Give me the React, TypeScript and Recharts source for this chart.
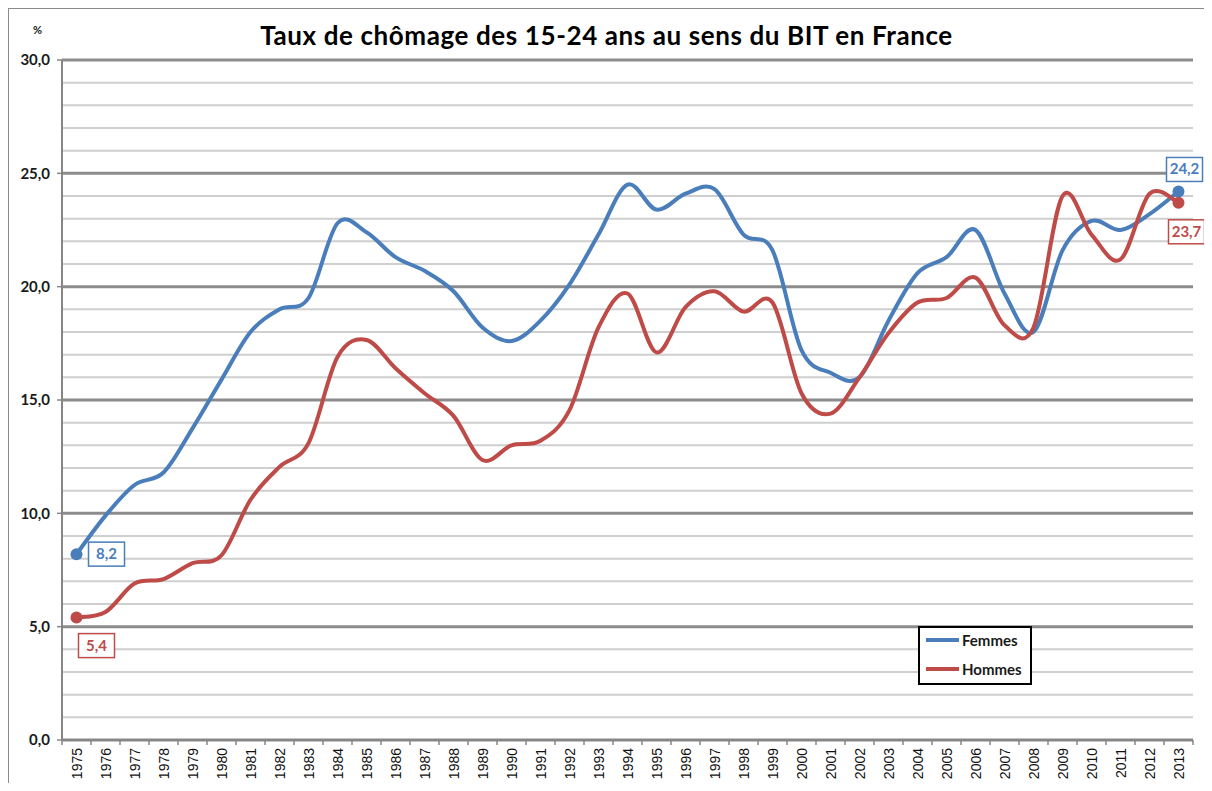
import { LineChart, Line, XAxis, YAxis, ReferenceLine, LabelList } from 'recharts'

const years = [
  '1975', '1976', '1977', '1978', '1979', '1980', '1981', '1982', '1983', '1984',
  '1985', '1986', '1987', '1988', '1989', '1990', '1991', '1992', '1993', '1994',
  '1995', '1996', '1997', '1998', '1999', '2000', '2001', '2002', '2003', '2004',
  '2005', '2006', '2007', '2008', '2009', '2010', '2011', '2012', '2013',
]

const femmes = [
  8.2, 9.9, 11.25, 11.8, 13.75, 15.9, 18.0, 19.0, 19.5, 22.8,
  22.4, 21.3, 20.7, 19.8, 18.2, 17.6, 18.5, 20.1, 22.3, 24.5,
  23.4, 24.1, 24.3, 22.3, 21.6, 17.2, 16.2, 16.0, 18.5, 20.6,
  21.3, 22.5, 19.7, 18.0, 21.6, 22.9, 22.5, 23.2, 24.2,
]

const hommes = [
  5.4, 5.65, 6.9, 7.1, 7.8, 8.15, 10.6, 12.05, 13.1, 16.9,
  17.65, 16.4, 15.3, 14.3, 12.35, 13.0, 13.2, 14.55, 18.2, 19.7,
  17.1, 19.1, 19.8, 18.9, 19.3, 15.3, 14.4, 16.0, 17.95, 19.3,
  19.5, 20.4, 18.3, 18.2, 24.0, 22.3, 21.2, 24.1, 23.7,
]

const majorTicks = [0, 5, 10, 15, 20, 25, 30]
const minorGrid = Array.from({ length: 31 }, (_, i) => i).filter((v) => v % 5 !== 0)

const data = years.map((year, i) => ({ year, femmes: femmes[i], hommes: hommes[i] }))

const BLUE = '#4a7ebb'
const RED = '#be4b48'
const HALF_BAND = 14.5

const series = [
  { key: 'femmes', name: 'Femmes', color: BLUE, first: { dx: 12, dy: -12 }, last: { dx: -12, dy: -34 } },
  { key: 'hommes', name: 'Hommes', color: RED, first: { dx: 2, dy: 16 }, last: { dx: -10, dy: 17 } },
]

const fmt = (v: number) => v.toFixed(1).replace('.', ',')

// Excel-like smoothed line (Catmull-Rom as bezier segments)
function excelSmooth(context: any) {
  let pts: number[][] = []
  return {
    areaStart() {},
    areaEnd() {},
    lineStart() {
      pts = []
    },
    point(x: number, y: number) {
      pts.push([+x, +y])
    },
    lineEnd() {
      if (!pts.length) return
      context.moveTo(pts[0][0], pts[0][1])
      for (let i = 0; i < pts.length - 1; i++) {
        const p0 = pts[i - 1] || pts[i]
        const p1 = pts[i]
        const p2 = pts[i + 1]
        const p3 = pts[i + 2] || p2
        context.bezierCurveTo(
          p1[0] + (p2[0] - p0[0]) / 6,
          p1[1] + (p2[1] - p0[1]) / 6,
          p2[0] - (p3[0] - p1[0]) / 6,
          p2[1] - (p3[1] - p1[1]) / 6,
          p2[0],
          p2[1],
        )
      }
    },
  }
}

function YearTick(props: any) {
  const { x, y, payload, index } = props
  const isLast = index === years.length - 1
  return (
    <g>
      <line x1={x - HALF_BAND} x2={x - HALF_BAND} y1={y} y2={y + 5} stroke="#868686" strokeWidth={1.5} />
      {isLast && (
        <line x1={x + HALF_BAND} x2={x + HALF_BAND} y1={y} y2={y + 5} stroke="#868686" strokeWidth={1.5} />
      )}
      <text
        x={x + 5}
        y={y + 8}
        transform={`rotate(-90, ${x + 5}, ${y + 8})`}
        textAnchor="end"
        fontSize={14}
        fontFamily="'Liberation Sans', Arial, sans-serif"
        fill="#111"
      >
        {payload.value}
      </text>
    </g>
  )
}

function makeDot(color: string) {
  return (props: any) => {
    const { cx, cy, index } = props
    if (index !== 0 && index !== years.length - 1) return <g key={index} />
    return <circle key={index} cx={cx} cy={cy} r={6} fill={color} stroke="none" />
  }
}

function makeLabel(s: (typeof series)[number]) {
  return (props: any) => {
    const { x, y, index, value } = props
    if (index !== 0 && index !== years.length - 1) return null
    const off = index === 0 ? s.first : s.last
    const bx = x + off.dx
    const by = y + off.dy
    return (
      <g>
        <rect x={bx} y={by} width={36} height={24} fill="#fff" stroke={s.color} strokeWidth={1.5} />
        <text
          x={bx + 18}
          y={by + 17}
          textAnchor="middle"
          fontSize={15}
          fontWeight={700}
          fontFamily="Lato, sans-serif"
          fill={s.color}
        >
          {fmt(value)}
        </text>
      </g>
    )
  }
}

export default function App() {
  return (
    <div
      style={{
        position: 'relative',
        width: 1196,
        height: 783,
        marginBottom: -8,
        borderTop: '1px solid #8a8a8a',
        borderLeft: '1px solid #8a8a8a',
        boxSizing: 'border-box',
        overflow: 'hidden',
        background: '#fff',
      }}
    >
      <div
        style={{
          position: 'absolute',
          left: 0,
          top: 13,
          width: 1195,
          textAlign: 'center',
          fontFamily: 'Lato, sans-serif',
          fontWeight: 700,
          fontSize: 26,
          letterSpacing: 0.6,
          lineHeight: '26px',
          color: '#000',
        }}
      >
        Taux de chômage des 15-24 ans au sens du BIT en France
      </div>
      <div
        style={{
          position: 'absolute',
          left: 24,
          top: 14,
          fontFamily: 'Lato, sans-serif',
          fontWeight: 700,
          fontSize: 11,
          color: '#1a1a1a',
        }}
      >
        %
      </div>

      <LineChart width={1195} height={782} data={data} margin={{ top: 51, right: 11, bottom: 0, left: 0 }}>
        {minorGrid.map((v) => (
          <ReferenceLine key={`m${v}`} y={v} stroke="#cfcfcf" strokeWidth={2} />
        ))}
        {majorTicks.map((v) => (
          <ReferenceLine key={`M${v}`} y={v} stroke="#8c8c8c" strokeWidth={3} />
        ))}
        <XAxis
          dataKey="year"
          interval={0}
          padding={{ left: HALF_BAND, right: HALF_BAND }}
          height={51}
          tickSize={0}
          tickMargin={0}
          tickLine={false}
          axisLine={{ stroke: '#868686', strokeWidth: 2 }}
          tick={<YearTick />}
        />
        <YAxis
          domain={[0, 30]}
          ticks={majorTicks}
          interval={0}
          width={53}
          tickSize={5}
          tickMargin={7}
          tickFormatter={fmt}
          axisLine={{ stroke: '#868686', strokeWidth: 2 }}
          tickLine={{ stroke: '#868686', strokeWidth: 1.5 }}
          tick={{ fontSize: 15, fontWeight: 700, fill: '#1a1a1a', fontFamily: 'Lato, sans-serif' }}
        />
        {series.map((s) => (
          <Line
            key={s.key}
            dataKey={s.key}
            name={s.name}
            type={excelSmooth as any}
            stroke={s.color}
            strokeWidth={4}
            dot={makeDot(s.color)}
            activeDot={false}
            isAnimationActive={false}
          >
            <LabelList dataKey={s.key} content={makeLabel(s)} />
          </Line>
        ))}
      </LineChart>

      <div
        style={{
          position: 'absolute',
          left: 909,
          top: 617,
          width: 114,
          height: 59,
          boxSizing: 'border-box',
          border: '2px solid #000',
          background: '#fff',
          fontFamily: 'Lato, sans-serif',
          fontWeight: 700,
          fontSize: 15,
          color: '#1a1a1a',
        }}
      >
        {series.map((s, i) => (
          <div key={s.key} style={{ position: 'absolute', left: 6, top: 3 + i * 29, height: 18, display: 'flex', alignItems: 'center' }}>
            <span style={{ display: 'inline-block', width: 33, height: 4, background: s.color, marginRight: 3 }} />
            {s.name}
          </div>
        ))}
      </div>
    </div>
  )
}
